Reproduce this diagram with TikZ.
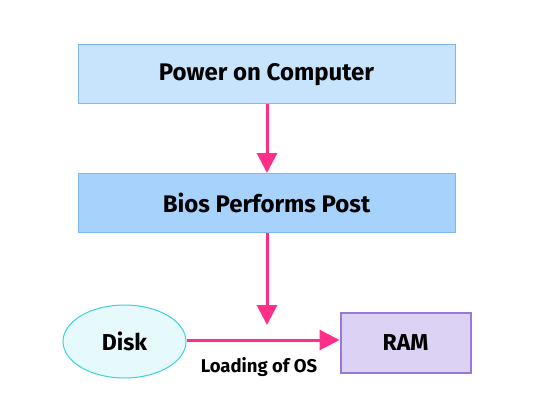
\documentclass[tikz,border=0pt]{standalone}
\usepackage{fontspec}
\setmainfont{Fira Sans}
\usetikzlibrary{shapes.geometric,arrows.meta}
\definecolor{arrowc}{HTML}{FF2E88}
\definecolor{boxAfill}{HTML}{C8E4FC}
\definecolor{boxAdraw}{HTML}{7DB9F0}
\definecolor{boxBfill}{HTML}{A6D2FC}
\definecolor{diskfill}{HTML}{E6FAFB}
\definecolor{diskdraw}{HTML}{3CD0DC}
\definecolor{ramfill}{HTML}{DCD2F4}
\definecolor{ramdraw}{HTML}{9A78D8}
\begin{document}
\begin{tikzpicture}[x=1pt,y=-1pt,
  flowbox/.style={draw=boxAdraw,line width=1pt,minimum width=377pt,minimum height=59pt,inner sep=0pt,font=\fontsize{24}{28}\selectfont\bfseries},
  conn/.style={draw=arrowc,line width=3pt,-{Triangle[length=20pt,width=20pt]}},
  lbl/.style={font=\fontsize{18.5}{22}\selectfont\bfseries}]
\useasboundingbox (0,0) rectangle (536,412);
\node[flowbox,fill=boxAfill] (power) at (266.5,74.5) {Power on Computer};
\node[flowbox,fill=boxBfill] (bios) at (266.5,203) {Bios Performs Post};
\node[ellipse,draw=diskdraw,fill=diskfill,line width=1pt,minimum width=123pt,minimum height=73pt,inner sep=0pt,font=\fontsize{23}{27}\selectfont\bfseries] (disk) at (124.5,341.5) {Disk};
\node[draw=ramdraw,fill=ramfill,line width=2pt,minimum width=130pt,minimum height=60pt,inner sep=0pt,font=\fontsize{23}{27}\selectfont\bfseries] (ram) at (405.5,342.5) {RAM};
\coordinate (stop) at (267,325);
\draw[conn] (power.south -| 267,0) -- (bios.north -| 267,0);
\draw[conn] (bios.south -| 267,0) -- (stop);
\draw[conn] (disk.east |- 0,340) -- (ram.west |- 0,340);
\node[lbl] (load) at (259,367) {Loading of OS};
\end{tikzpicture}
\end{document}
